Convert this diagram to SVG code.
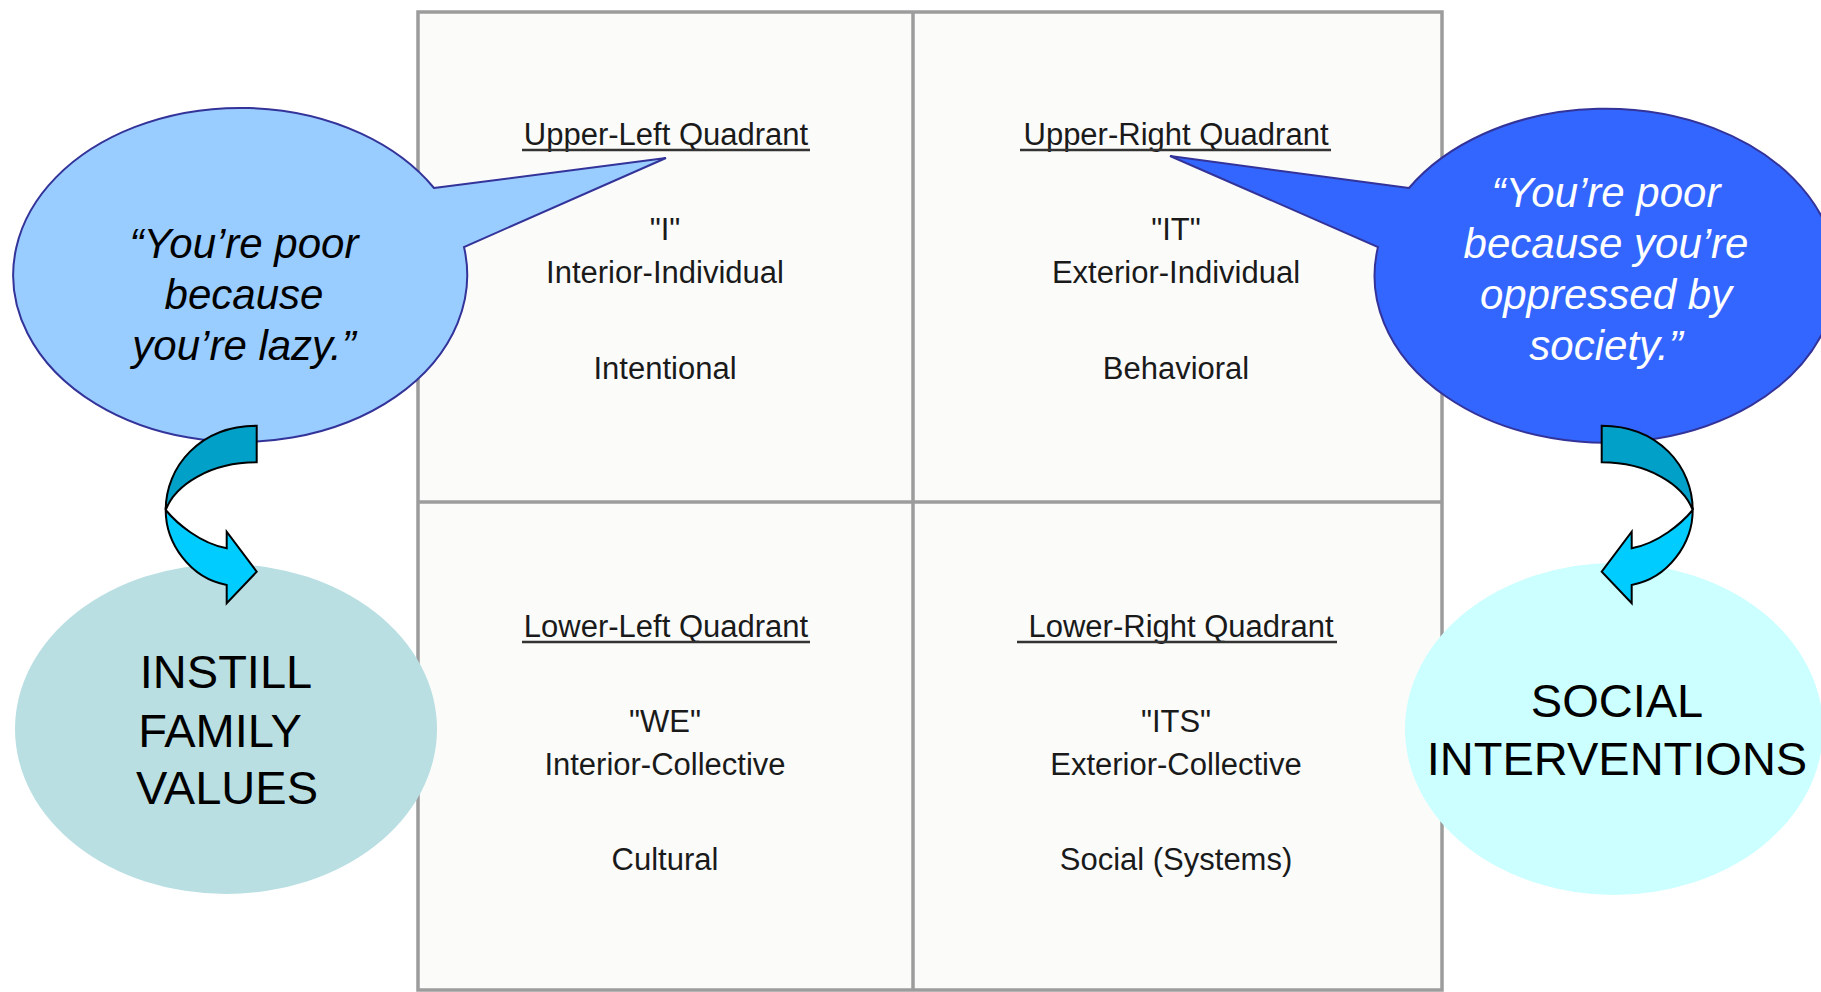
<svg xmlns="http://www.w3.org/2000/svg" xmlns:xlink="http://www.w3.org/1999/xlink" width="1821" height="992" viewBox="0 0 1821 992">
<style>
.q{font-family:"Liberation Sans",Arial,sans-serif;font-size:31px;fill:#1a1a1a;text-anchor:middle}
.ul{stroke:#333;stroke-width:2.5}
.grid{fill:none;stroke:#9c9c9c;stroke-width:3.5}
.bub{font-family:"Liberation Sans",Arial,sans-serif;font-size:42px;font-style:italic;text-anchor:middle}
.big{font-family:"Liberation Sans",Arial,sans-serif;font-size:47px;fill:#000;text-anchor:middle}
.dark{fill:#00a0c8;stroke:#000;stroke-width:2;stroke-linejoin:miter}
.light{fill:#00ccff;stroke:#000;stroke-width:2;stroke-linejoin:miter}
</style>
<defs>
<g id="curvedArrow">
<path class="dark" d="M256.7,425.7 C200,425.7 165.7,466.7 165.7,510 C175,485 210,462.3 256.7,462.3 Z"/>
<path class="light" d="M165.7,510 C165.7,543.3 190,578.3 226.7,585 L226.7,603.3 L256.7,571.7 L226.7,531.7 L226.7,548.3 C200,543.3 176.7,523.3 165.7,510 Z"/>
</g>
</defs>
<rect width="1821" height="992" fill="#fff"/>
<g id="grid">
<rect x="418" y="12" width="1024" height="978" fill="#fbfcfa"/>
<rect class="grid" x="418" y="12" width="1024" height="978"/>
<line class="grid" x1="913" y1="12" x2="913" y2="990"/>
<line class="grid" x1="418" y1="502" x2="1442" y2="502"/>
</g>
<g id="quadrant-ul">
<text class="q" x="666" y="145">Upper-Left Quadrant</text>
<line class="ul" x1="522" y1="150" x2="810" y2="150"/>
<text class="q" x="665" y="240">"I"</text>
<text class="q" x="665" y="283">Interior-Individual</text>
<text class="q" x="665" y="379">Intentional</text>
</g>
<g id="quadrant-ur">
<text class="q" x="1176" y="145">Upper-Right Quadrant</text>
<line class="ul" x1="1020" y1="150" x2="1331" y2="150"/>
<text class="q" x="1176" y="240">"IT"</text>
<text class="q" x="1176" y="283">Exterior-Individual</text>
<text class="q" x="1176" y="379">Behavioral</text>
</g>
<g id="quadrant-ll">
<text class="q" x="666" y="637">Lower-Left Quadrant</text>
<line class="ul" x1="522" y1="642" x2="810" y2="642"/>
<text class="q" x="665" y="732">"WE"</text>
<text class="q" x="665" y="775">Interior-Collective</text>
<text class="q" x="665" y="870">Cultural</text>
</g>
<g id="quadrant-lr">
<text class="q" x="1181" y="637">Lower-Right Quadrant</text>
<line class="ul" x1="1017" y1="642" x2="1337" y2="642"/>
<text class="q" x="1176" y="732">"ITS"</text>
<text class="q" x="1176" y="775">Exterior-Collective</text>
<text class="q" x="1176" y="870">Social (Systems)</text>
</g>
<g id="instill">
<ellipse cx="226" cy="729" rx="211" ry="165" fill="#b9dfe3"/>
<text class="big" x="226" y="688">INSTILL</text>
<text class="big" x="220" y="747">FAMILY</text>
<text class="big" x="227" y="804">VALUES</text>
</g>
<g id="social">
<ellipse cx="1614" cy="729" rx="209" ry="166" fill="#ccffff"/>
<text class="big" x="1617" y="717">SOCIAL</text>
<text class="big" x="1617" y="775">INTERVENTIONS</text>
</g>
<g id="bubble-left">
<path d="M434,188 L666,158 L464,247 A227,167 0 1 1 434,188 Z" fill="#99ccff" stroke="#333399" stroke-width="2"/>
<text class="bub" x="244" y="258" fill="#000">“You’re poor</text>
<text class="bub" x="244" y="309" fill="#000">because</text>
<text class="bub" x="244" y="360" fill="#000">you’re lazy.”</text>
</g>
<g id="bubble-right">
<path d="M1409,188 L1170,156 L1378,247 A231,167 0 1 0 1409,188 Z" fill="#3366ff" stroke="#333399" stroke-width="2"/>
<text class="bub" x="1606" y="207" fill="#fff">“You’re poor</text>
<text class="bub" x="1606" y="258" fill="#fff">because you’re</text>
<text class="bub" x="1606" y="309" fill="#fff">oppressed by</text>
<text class="bub" x="1606" y="360" fill="#fff">society.”</text>
</g>
<g id="connectors">
<use xlink:href="#curvedArrow"/>
<use xlink:href="#curvedArrow" transform="translate(1858.4,0) scale(-1,1)"/>
</g>
</svg>
